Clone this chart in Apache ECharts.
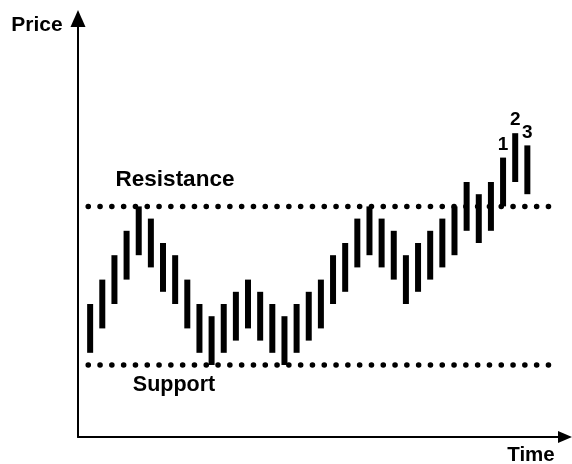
<!DOCTYPE html>
<html>
<head>
<meta charset="utf-8">
<script src="https://cdn.jsdelivr.net/npm/echarts@6/dist/echarts.min.js"></script>
<style>
  html, body { margin: 0; padding: 0; background: #fff; }
  #chart { width: 572px; height: 464px; }
</style>
</head>
<body>
<div id="chart"></div>
<script>
// Price range of each period (in price steps), one bar per period
const barLows  = [1, 3, 5, 7, 9, 8, 6, 5, 3, 1, 0, 1, 2, 3, 2, 1, 0, 1, 2, 3, 5, 6, 8, 9, 8, 7, 5, 6, 7, 8, 9, 11, 10, 11, 13, 15, 14];
const barHighs = [5, 7, 9, 11, 13, 12, 10, 9, 7, 5, 4, 5, 6, 7, 6, 5, 4, 5, 6, 7, 9, 10, 12, 13, 12, 11, 9, 10, 11, 12, 13, 15, 14, 15, 17, 19, 18];

// Horizontal levels
const resistanceLevel = 13;
const supportLevel = 0;
const levelSpan = [-0.16, 38];

// Numbered breakout bars
const breakoutBars = [34, 35, 36];
const breakoutNames = ['1', '2', '3'];

const FONT = 'Liberation Sans';

const chart = echarts.init(document.getElementById('chart'), null, { renderer: 'canvas' });

const barData = barLows.map((lo, i) => [i, lo, barHighs[i]]);

const dotted = {
  color: '#000',
  width: 5.5,
  type: [0.1, 11.7],
  cap: 'round'
};

function caption(text, x, y, size) {
  return {
    type: 'text',
    x: x,
    y: y,
    style: {
      text: text,
      fill: '#000',
      fontFamily: FONT,
      fontWeight: 'bold',
      fontSize: size,
      align: 'center',
      verticalAlign: 'middle'
    }
  };
}

const option = {
  animation: false,
  backgroundColor: '#fff',
  grid: { left: 78, right: 7, top: 18.5, bottom: 27 },
  xAxis: {
    type: 'value',
    min: -1,
    max: 39.1,
    axisLine: {
      show: true,
      onZero: false,
      symbol: ['none', 'triangle'],
      symbolSize: [12, 14],
      lineStyle: { color: '#000', width: 2 }
    },
    axisTick: { show: false },
    axisLabel: { show: false },
    splitLine: { show: false }
  },
  yAxis: {
    type: 'value',
    min: -5.9,
    max: 28.4,
    axisLine: {
      show: true,
      onZero: false,
      symbol: ['none', 'triangle'],
      symbolSize: [15, 17],
      lineStyle: { color: '#000', width: 2 }
    },
    axisTick: { show: false },
    axisLabel: { show: false },
    splitLine: { show: false }
  },
  series: [
    {
      name: 'Resistance',
      type: 'line',
      symbol: 'none',
      silent: true,
      lineStyle: dotted,
      data: [[levelSpan[0], resistanceLevel], [levelSpan[1], resistanceLevel]]
    },
    {
      name: 'Support',
      type: 'line',
      symbol: 'none',
      silent: true,
      lineStyle: dotted,
      data: [[levelSpan[0], supportLevel], [levelSpan[1], supportLevel]]
    },
    {
      name: 'Price bars',
      type: 'custom',
      data: barData,
      renderItem: function (params, api) {
        const top = api.coord([api.value(0), api.value(2)]);
        const bot = api.coord([api.value(0), api.value(1)]);
        return {
          type: 'rect',
          shape: { x: top[0] - 3, y: top[1], width: 6, height: bot[1] - top[1] },
          style: { fill: '#000' }
        };
      }
    },
    {
      name: 'Breakouts',
      type: 'scatter',
      symbolSize: 1,
      itemStyle: { color: 'rgba(0,0,0,0)', opacity: 1 },
      data: breakoutBars.map((b, k) => ({ name: breakoutNames[k], value: [b, barHighs[b]] })),
      label: {
        show: true,
        position: 'top',
        distance: 3,
        formatter: '{b}',
        color: '#000',
        fontFamily: FONT,
        fontSize: 19,
        fontWeight: 'bold'
      }
    }
  ],
  graphic: [
    caption('Price', 37, 25, 21),
    caption('Time', 531, 455, 20.5),
    caption('Resistance', 175, 180, 22.5),
    caption('Support', 174, 385, 21.5)
  ]
};

chart.setOption(option);
</script>
</body>
</html>
